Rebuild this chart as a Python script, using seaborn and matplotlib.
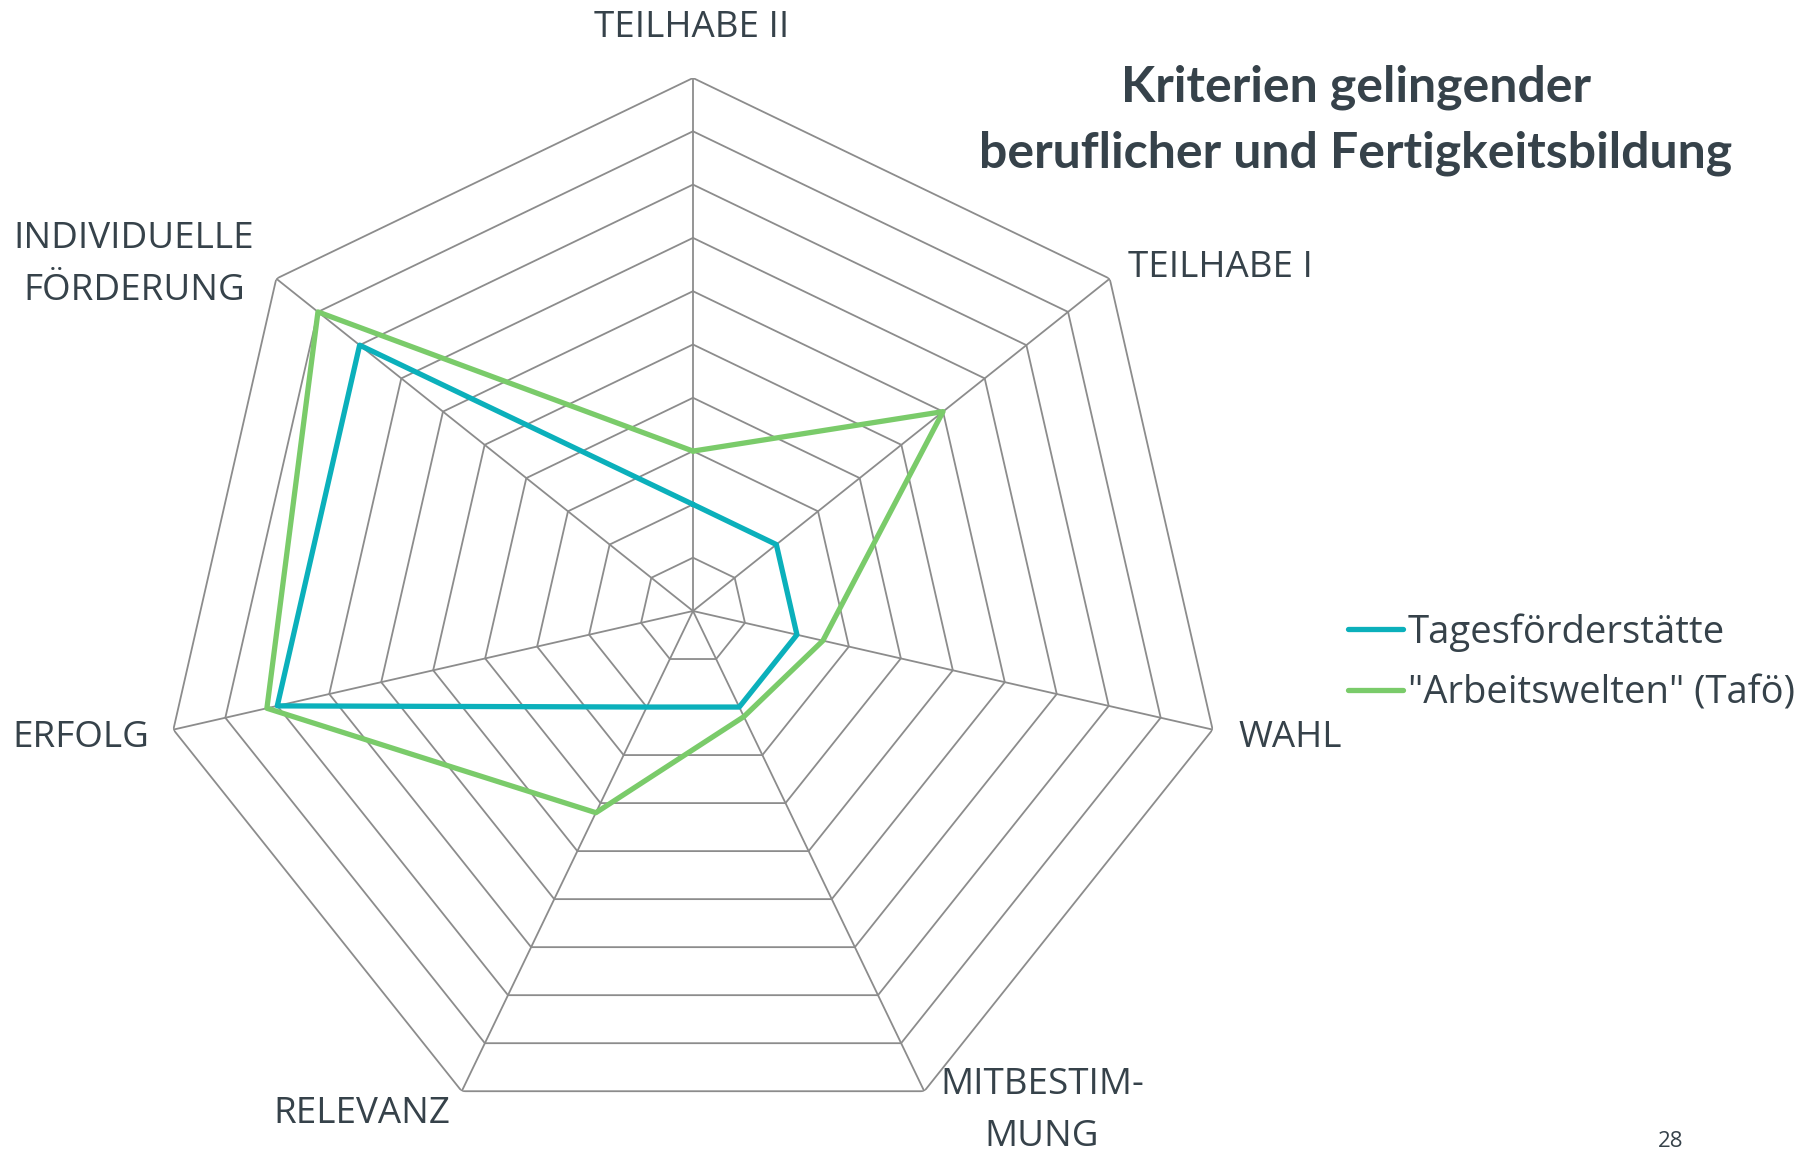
import matplotlib
matplotlib.use('Agg')

import numpy as np
import pandas as pd
import matplotlib.pyplot as plt
import seaborn as sns

# Kategorien (im Uhrzeigersinn ab oben)
categories = ["TEILHABE II", "TEILHABE I", "WAHL", "MITBESTIM-\nMUNG",
              "RELEVANZ", "ERFOLG", "INDIVIDUELLE\nFÖRDERUNG"]
series_names = ["Tagesförderstätte", "\"Arbeitswelten\" (Tafö)"]
tages_values = [2, 2, 2, 2, 2, 8, 8]
arbeit_values = [3, 6, 2.5, 2.2, 4.2, 8.2, 9]
ring_levels = [1, 2, 3, 4, 5, 6, 7, 8, 9, 10]
title_text = "Kriterien gelingender\nberuflicher und Fertigkeitsbildung"
page_number = "28"

W, H = 1813, 1155
TEAL = "#0bb0bb"
GREEN = "#7acb6a"
GRID = "#8c8c8c"
TEXT = "#36424a"

sns.set_theme(style="white")
plt.rcParams['font.family'] = ['Open Sans', 'DejaVu Sans']

n = len(categories)
angles = [2 * np.pi * i / n for i in range(n)]

# Tabelle fuer seaborn (Polygon geschlossen)
rows = []
for name, vals in zip(series_names, [tages_values, arbeit_values]):
    for a, v in zip(angles + [2 * np.pi], vals + [vals[0]]):
        rows.append({"angle": a, "value": v, "series": name})
df = pd.DataFrame(rows)

fig = plt.figure(figsize=(W / 100, H / 100), dpi=100)
fig.patch.set_facecolor("white")

# Zentrum (693, 611) px, Radius 533 px
cx, cy, rad = 693, 611, 533
ax = fig.add_axes([(cx - rad) / W, (H - cy - rad) / H, 2 * rad / W, 2 * rad / H],
                  projection="polar")
ax.set_theta_offset(np.pi / 2)
ax.set_theta_direction(-1)
ax.set_facecolor("none")

# Polygon-Gitter
closed = angles + [angles[0]]
for lvl in ring_levels:
    ax.plot(closed, [lvl] * (n + 1), color=GRID, lw=1.3, zorder=1)
for a in angles:
    ax.plot([a, a], [0, ring_levels[-1]], color=GRID, lw=1.3, zorder=1)

sns.lineplot(data=df, x="angle", y="value", hue="series", sort=False,
             estimator=None, palette=[TEAL, GREEN], linewidth=3.8, ax=ax,
             zorder=3)

ax.set_ylim(0, ring_levels[-1])
ax.set_xticks([])
ax.set_yticks([])
ax.grid(False)
ax.spines['polar'].set_visible(False)
ax.set_xlabel("")
ax.set_ylabel("")

# Legende
sns.move_legend(ax, "center left", bbox_to_anchor=(1348 / W, 1 - 663 / H),
                bbox_transform=fig.transFigure, title=None, frameon=False,
                fontsize=27.5, handlelength=1.45, handletextpad=0.12,
                labelspacing=0.6, borderpad=0, borderaxespad=0)
leg = ax.get_legend()
for t in leg.get_texts():
    t.set_color(TEXT)
for h in leg.legend_handles:
    h.set_linewidth(3.8)

# Achsenbeschriftungen: (Mitte x, Grundlinie y) in Pixeln
label_pos = [(692, 37), (1220, 277), (1290, 747), (1042, 1094),
             (362, 1123), (81, 747), (134, 248)]
for lab, (x, y) in zip(categories, label_pos):
    for k, line in enumerate(lab.split("\n")):
        fig.text(x / W, 1 - (y + k * 51.5) / H, line, ha="center",
                 va="baseline", fontsize=26.5, color=TEXT)

# Titel
for k, line in enumerate(title_text.split("\n")):
    fig.text(1356 / W, 1 - (102 + k * 65) / H, line, ha="center",
             va="baseline", fontsize=36, fontweight="bold", color=TEXT,
             family=["Lato", "DejaVu Sans"])

fig.text(1671 / W, 1 - 1147 / H, page_number, ha="center", va="baseline",
         fontsize=16, color=TEXT)

fig.savefig("out.png", dpi=100, facecolor="white")
